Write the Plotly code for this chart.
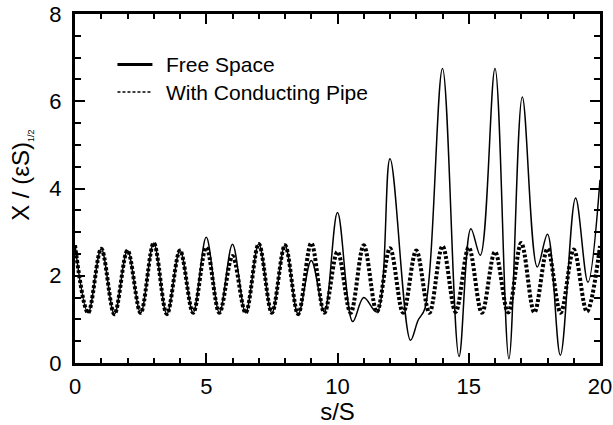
import plotly.graph_objects as go

# Free Space (solid) control points
free_s = [0, 0.5, 1, 1.5, 2, 2.5, 3, 3.5, 4, 4.5, 5, 5.5, 6, 6.5, 7, 7.5, 8, 8.5, 9, 9.5,
          10, 10.58, 11.0, 11.5, 12.0, 12.78, 13.07, 13.33, 14.0, 14.63, 15.08, 15.44,
          16.0, 16.53, 17.04, 17.61, 18.0, 18.49, 19.07, 19.54, 20.0]
free_x = [2.7, 1.15, 2.62, 1.12, 2.58, 1.15, 2.75, 1.12, 2.58, 1.15, 2.88, 1.15, 2.72, 1.15,
          2.73, 1.15, 2.7, 1.12, 2.35, 1.17,
          3.45, 0.95, 1.5, 1.17, 4.68, 0.52, 0.98, 1.25, 6.75, 0.15, 3.08, 2.47,
          6.75, 0.1, 6.1, 2.2, 2.95, 0.18, 3.78, 1.85, 4.2]

# With Conducting Pipe (dotted)
pipe_s = [0, 0.5, 1, 1.5, 2, 2.5, 3, 3.5, 4, 4.5, 5, 5.5, 6, 6.5, 7, 7.5, 8, 8.5, 9, 9.5,
          10, 10.5, 11, 11.5, 12, 12.5, 13, 13.5, 14, 14.5, 15, 15.5, 16, 16.5, 17, 17.5,
          18, 18.5, 19, 19.5, 20]
pipe_x = [2.7, 1.15, 2.62, 1.12, 2.58, 1.15, 2.75, 1.12, 2.58, 1.15, 2.65, 1.15, 2.45, 1.15,
          2.73, 1.15, 2.7, 1.12, 2.75, 1.15,
          2.55, 1.15, 2.7, 1.17, 2.63, 1.15, 2.58, 1.15, 2.68, 1.17, 2.65, 1.15,
          2.55, 1.16, 2.75, 1.16, 2.62, 1.15, 2.6, 1.18, 2.68]

legend_labels = ["Free Space", "With Conducting Pipe"]
x_title = "s/S"
y_title = 'X / (εS)<sub><span style="font-size:9px">1/2</span></sub>'

FONT = "Liberation Sans, Arial, Helvetica, sans-serif"

fig = go.Figure()
fig.add_trace(go.Scatter(x=pipe_s, y=pipe_x, mode="lines", name=legend_labels[1],
                         line=dict(color="black", width=4, dash="3px,2px", shape="spline", smoothing=1.0),
                         showlegend=False))
fig.add_trace(go.Scatter(x=free_s, y=free_x, mode="lines", name=legend_labels[0],
                         line=dict(color="black", width=1.5, shape="spline", smoothing=1.0),
                         showlegend=False))

# manual legend (paper coordinates)
L, R, T, B = 74.5, 600, 13.5, 363
def px(x):
    return (x - L) / (R - L)
def py(y):
    return (B - y) / (B - T)

fig.add_shape(type="line", xref="paper", yref="paper", x0=px(117), x1=px(152), y0=py(64), y1=py(64),
              line=dict(color="black", width=3))
fig.add_shape(type="line", xref="paper", yref="paper", x0=px(117), x1=px(152), y0=py(91.7), y1=py(91.7),
              line=dict(color="black", width=1.5, dash="3px,2px"))
fig.add_annotation(xref="paper", yref="paper", x=px(164), y=py(64), text=legend_labels[0],
                   showarrow=False, xanchor="left", yanchor="middle",
                   font=dict(family=FONT, size=21, color="black"))
fig.add_annotation(xref="paper", yref="paper", x=px(164), y=py(91.7), text=legend_labels[1],
                   showarrow=False, xanchor="left", yanchor="middle",
                   font=dict(family=FONT, size=21, color="black"))
# y axis title
fig.add_annotation(xref="paper", yref="paper", x=px(21), y=py(175), text=y_title,
                   showarrow=False, xanchor="center", yanchor="middle", textangle=-90,
                   font=dict(family=FONT, size=24, color="black"))

axis_common = dict(showgrid=False, zeroline=False, showline=True, linewidth=3, linecolor="black",
                   mirror="allticks", ticks="inside", tickwidth=2, tickcolor="black",
                   automargin=False,
                   tickfont=dict(family=FONT, size=22, color="black"))

fig.update_xaxes(range=[0, 20], tickvals=[0, 5, 10, 15, 20], ticklen=10,
                 minor=dict(dtick=1, ticks="inside", ticklen=5, tickwidth=2, tickcolor="black", showgrid=False),
                 title=dict(text=x_title, font=dict(family=FONT, size=24, color="black"), standoff=6),
                 ticklabelstandoff=2,
                 **axis_common)
fig.update_yaxes(range=[0, 8], tickvals=[0, 2, 4, 6, 8], ticklen=10,
                 minor=dict(dtick=0.5, ticks="inside", ticklen=6, tickwidth=2, tickcolor="black", showgrid=False),
                 ticklabelstandoff=6,
                 **axis_common)

fig.update_layout(width=613, height=425, margin=dict(l=74.5, r=13, t=13.5, b=62),
                  paper_bgcolor="white", plot_bgcolor="white", showlegend=False,
                  font=dict(family=FONT, color="black"))

fig.write_html("out.html", config={"displayModeBar": False},
               post_script="document.body.style.margin='0';document.body.style.overflow='hidden';")
